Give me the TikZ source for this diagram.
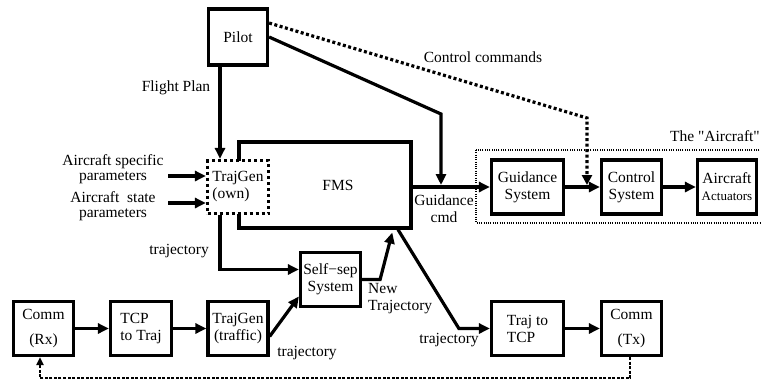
\documentclass[tikz,border=0pt]{standalone}
\usepackage{fontspec}
\setmainfont{Liberation Serif}
\newfontfamily\plainq{Liberation Serif}
\usetikzlibrary{arrows.meta}

\begin{document}
\begin{tikzpicture}[x=1pt, y=-1pt,
    font=\fontsize{15.5}{17}\selectfont,
    block/.style={draw, line width=3.2pt, fill=white, minimum width=#1,
        minimum height=54pt, inner sep=2pt, align=center},
    block/.default=60pt,
    dotblock/.style={draw, line width=3.2pt, dash pattern=on 3pt off 3pt,
        fill=white, minimum width=61pt, minimum height=53pt, inner sep=2pt, align=left},
    region/.style={line width=2pt, dash pattern=on 1pt off 1.3pt},
    lbl/.style={inner sep=1pt},
    arr/.style={line width=3.2pt, -{Triangle[length=11pt,width=10pt]}},
    dotarr/.style={line width=3.2pt, dash pattern=on 3pt off 2.5pt,
        -{Triangle[length=10pt,width=10pt]}},
    fbarr/.style={line width=2.2pt, dash pattern=on 3pt off 1.5pt,
        -{Triangle[length=8pt,width=7pt]}}]
    \useasboundingbox (0,0) rectangle (761,381);

    % the aircraft part
    \draw[region] (476,150) rectangle (762,223);
    \node[lbl, anchor=east] (acft) at (761,136) {The {\plainq "}Aircraft{\plainq "}};

    % blocks
    \node[block=59pt, minimum height=56pt] (pilot) at (238,37) {Pilot};
    \node[block=172pt, minimum height=86pt] (fms) at (325,185) {};
    \node[lbl] (fmstxt) at (338,185) {FMS};
    \node[dotblock] (own) at (238,187) {TrajGen\\(own)};
    \node[block=72pt] (gsys) at (527.5,187) {Guidance\\System};
    \node[block] (csys) at (631.5,187) {Control\\System};
    \node[block=59pt] (act) at (727,187) {Aircraft\\{\fontsize{13}{14}\selectfont Actuators}};
    \node[block] (selfsep) at (330.5,279.5) {Self−sep\\System};
    \node[block] (rx) at (43.5,328.5) {Comm\\[8pt](Rx)};
    \node[block=61pt, align=left] (tcp) at (141,328.5) {TCP\\to Traj};
    \node[block] (traffic) at (238,328.5) {TrajGen\\(traffic)};
    \node[block=72pt, align=left] (trajtcp) at (527.5,328.5) {Traj to\\TCP};
    \node[block] (tx) at (631.5,328.5) {Comm\\[8pt](Tx)};

    % labels
    \node[lbl] (fplan) at (176,88) {Flight Plan};
    \node[lbl] (ccmds) at (483,57) {Control commands};
    \node[lbl, align=center, font=\fontsize{15.5}{15}\selectfont] (aspec) at (113,169) {Aircraft specific\\parameters};
    \node[lbl, align=center, font=\fontsize{15.5}{15}\selectfont] (astate) at (113,206) {Aircraft\ \ state\\parameters};
    \node[lbl, anchor=east] (trjown) at (210,251) {trajectory};
    \node[lbl] (trjtraf) at (307,353) {trajectory};
    \node[lbl] (trjout) at (449,340) {trajectory};
    \node[lbl, align=left, anchor=north west] (newtrj) at (367,282) {New\\Trajectory};
    \node[lbl, align=center] (gcmd) at (444,209) {Guidance\\cmd};

    % connectors
    \coordinate (gin) at (441,187);
    \coordinate (gbend) at (441,114);
    \coordinate (cin) at (587,187);
    \coordinate (cbend) at (587,118);
    \coordinate (pin) at (168,176);
    \coordinate (sin) at (168,203);
    \draw[arr] ([xshift=-18pt]pilot.south) -- ([xshift=-18pt]own.north);
    \draw[arr, shorten >=2pt] (pilot.east) -- (gbend) -- (gin);
    \draw[dotarr, shorten >=2pt] ([yshift=14pt]pilot.east) -- (cbend) -- (cin);
    \draw[arr] (pin) -- (pin -| own.west);
    \draw[arr] (sin) -- (sin -| own.west);
    \draw[arr] (fms.east |- gin) -- (gsys.west);
    \draw[arr] (gsys.east) -- (csys.west);
    \draw[arr] (csys.east) -- (act.west);
    \draw[arr] ([xshift=-18pt]own.south) |- ([yshift=10pt]selfsep.west);
    \draw[arr, shorten >=3pt] (selfsep.east) -- ++(18,0) -- ([xshift=68pt]fms.south);
    \draw[arr] ([xshift=73pt]fms.south) -- ([xshift=-31pt]trajtcp.west) -- (trajtcp.west);
    \draw[arr] (trajtcp.east) -- (tx.west);
    \draw[arr] (rx.east) -- (tcp.west);
    \draw[arr] (tcp.east) -- (traffic.west);
    \draw[arr] ([yshift=-8pt]traffic.east) -- ([yshift=-17pt]selfsep.west);
    \draw[fbarr] ([xshift=-1.5pt]tx.south) -- ++(0,21) -| ([xshift=-3.5pt]rx.south);
\end{tikzpicture}
\end{document}
